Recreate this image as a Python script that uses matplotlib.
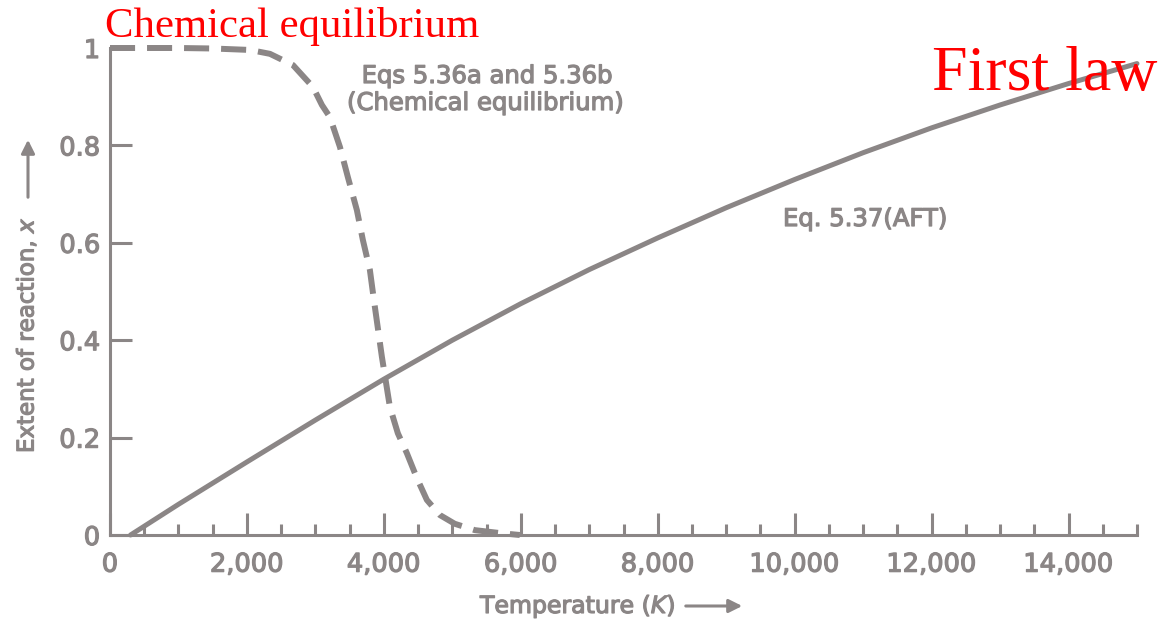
import matplotlib
matplotlib.use("Agg")
import matplotlib.pyplot as plt
import matplotlib.patheffects as pe
from matplotlib.patches import FancyArrowPatch
from matplotlib.ticker import MultipleLocator, FixedLocator, FixedFormatter

# Adiabatic flame temperature vs. chemical equilibrium: extent of reaction
temp_aft = [300, 1000, 2000, 3000, 4000, 5000, 6000, 7000, 8000,
            9000, 10000, 11000, 12000, 13000, 14000, 15000]
x_aft = [0.0, 0.063, 0.150, 0.236, 0.320, 0.400, 0.475, 0.545, 0.610,
         0.672, 0.730, 0.785, 0.836, 0.883, 0.927, 0.968]

temp_eq = [0, 1000, 1500, 2044, 2336, 2672, 2847, 2964, 3095, 3212, 3358,
           3474, 3606, 3693, 3796, 3854, 3971, 4088, 4204, 4336, 4482,
           4628, 4818, 5036, 5328, 5693, 5985]
x_eq = [1.0, 1.0, 0.999, 0.996, 0.988, 0.965, 0.938, 0.920, 0.883, 0.858,
        0.797, 0.735, 0.667, 0.606, 0.544, 0.483, 0.366, 0.263, 0.209,
        0.168, 0.117, 0.072, 0.041, 0.023, 0.010, 0.004, 0.0]

x_ticks = [0, 2000, 4000, 6000, 8000, 10000, 12000, 14000]
x_tick_labels = ["0", "2,000", "4,000", "6,000", "8,000", "10,000", "12,000", "14,000"]
y_ticks = [0, 0.2, 0.4, 0.6, 0.8, 1.0]
y_tick_labels = ["0", "0.2", "0.4", "0.6", "0.8", "1"]

W, H = 1164, 620
GRAY = "#8b8686"
RED = "#ff0000"
HEAVY = [pe.withStroke(linewidth=0.9, foreground=GRAY)]


def fx(px):
    return px / W


def fy(py):
    return 1 - py / H


fig = plt.figure(figsize=(W / 100, H / 100), dpi=100)
fig.patch.set_facecolor("white")
ax = fig.add_axes([fx(110), fy(535), fx(1137) - fx(110), fy(48) - fy(535)])

ax.plot(temp_aft, x_aft, color=GRAY, lw=3.6, solid_capstyle="round",
        solid_joinstyle="round", clip_on=False)
ax.plot(temp_eq, x_eq, color=GRAY, lw=4.3, linestyle=(0, (4.2, 2.0)),
        dash_joinstyle="round", clip_on=False)

ax.set_xlim(0, 15000)
ax.set_ylim(0, 1)

for side in ("top", "right"):
    ax.spines[side].set_visible(False)
for side in ("left", "bottom"):
    ax.spines[side].set_color(GRAY)
    ax.spines[side].set_linewidth(2.2)

ax.xaxis.set_major_locator(FixedLocator(x_ticks))
ax.xaxis.set_major_formatter(FixedFormatter(x_tick_labels))
ax.xaxis.set_minor_locator(MultipleLocator(500))
ax.yaxis.set_major_locator(FixedLocator(y_ticks))
ax.yaxis.set_major_formatter(FixedFormatter(y_tick_labels))

ax.tick_params(axis="x", which="major", direction="in", length=16, width=2.2,
               color=GRAY, labelcolor=GRAY, labelsize=18.5, pad=12)
ax.tick_params(axis="x", which="minor", direction="in", length=8, width=2.2,
               color=GRAY)
ax.tick_params(axis="y", which="major", direction="in", length=16, width=2.2,
               color=GRAY, labelcolor=GRAY, labelsize=18.5, pad=7)
for lbl in ax.get_xticklabels() + ax.get_yticklabels():
    lbl.set_path_effects(HEAVY)

# Axis titles with their arrows
fig.text(fx(26), fy(453), "Extent of reaction, $x$", rotation=90, ha="center",
         va="bottom", color=GRAY, fontsize=16.5, path_effects=HEAVY)
fig.patches.append(FancyArrowPatch(
    (fx(28), fy(200)), (fx(28), fy(137)), transform=fig.transFigure,
    arrowstyle="-|>,head_length=8,head_width=4", color=GRAY, lw=2.2,
    mutation_scale=1))

fig.text(fx(480), fy(613), "Temperature ($K$)", ha="left", va="baseline",
         color=GRAY, fontsize=17, path_effects=HEAVY)
fig.patches.append(FancyArrowPatch(
    (fx(683), fy(606)), (fx(745), fy(606)), transform=fig.transFigure,
    arrowstyle="-|>,head_length=8,head_width=4", color=GRAY, lw=2.2,
    mutation_scale=1))

# Curve annotations
fig.text(fx(487), fy(83), "Eqs 5.36a and 5.36b", ha="center", va="baseline",
         color=GRAY, fontsize=17.5, path_effects=HEAVY)
fig.text(fx(485), fy(110), "(Chemical equilibrium)", ha="center", va="baseline",
         color=GRAY, fontsize=17.5, path_effects=HEAVY)
fig.text(fx(783), fy(226), "Eq. 5.37(AFT)", ha="left", va="baseline",
         color=GRAY, fontsize=17.5, path_effects=HEAVY)

fig.text(fx(105), fy(37), "Chemical equilibrium", ha="left", va="baseline",
         color=RED, fontsize=30.8, family=["Liberation Serif", "DejaVu Serif"])
fig.text(fx(932), fy(90), "First law", ha="left", va="baseline",
         color=RED, fontsize=46, family=["Liberation Serif", "DejaVu Serif"])

fig.savefig("out.png", dpi=100, facecolor="white")
